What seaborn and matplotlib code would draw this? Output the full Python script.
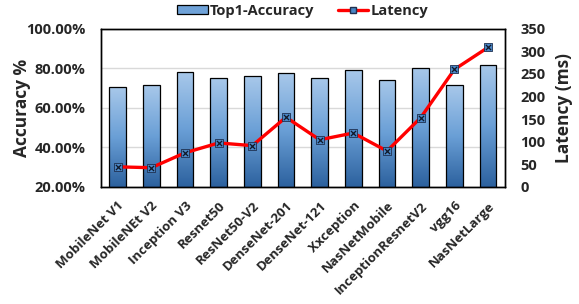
import numpy as np
import pandas as pd
import matplotlib
matplotlib.use('Agg')
import matplotlib.pyplot as plt
import seaborn as sns
from matplotlib.colors import LinearSegmentedColormap
from matplotlib.lines import Line2D
from matplotlib.patches import Patch

models = ['MobileNet V1', 'MobileNEt V2', 'Inception V3', 'Resnet50', 'ResNet50-V2',
          'DenseNet-201', 'DenseNet-121', 'Xxception', 'NasNetMobile',
          'InceptionResnetV2', 'vgg16', 'NasNetLarge']
accuracy = [70.6, 71.5, 78.1, 75.0, 76.0, 77.4, 75.0, 78.9, 74.3, 80.4, 71.3, 81.9]
latency = [44, 42, 75, 97, 91, 154, 104, 119, 79, 153, 260, 309]
acc_ticks = [20, 40, 60, 80, 100]
lat_ticks = [0, 50, 100, 150, 200, 250, 300, 350]

df = pd.DataFrame({'model': models, 'accuracy': accuracy, 'latency': latency})

sns.set_theme(style='white')
plt.rcParams['font.family'] = ['Open Sans', 'DejaVu Sans']
plt.rcParams['font.weight'] = 'bold'

fig, ax = plt.subplots(figsize=(5.79, 3.04), dpi=100)
fig.subplots_adjust(left=0.174, right=0.872, top=0.905, bottom=0.386)

sns.barplot(data=df, x='model', y='accuracy', ax=ax, width=0.5,
            color='#5b9bd5', edgecolor='black', linewidth=0.9, zorder=2)

# vertical gradient fill on each bar (dark bottom -> light top)
cmap = LinearSegmentedColormap.from_list('blu', ['#2c619e', '#6a9fd6', '#a8c8ea'])
grad = np.linspace(0, 1, 256).reshape(-1, 1)
for p in ax.patches:
    x0, y0 = p.get_x(), p.get_y()
    w, h = p.get_width(), p.get_height()
    im = ax.imshow(grad, cmap=cmap, aspect='auto', origin='lower',
                   extent=[x0, x0 + w, 20, y0 + h], zorder=2.5)
    im.set_clip_path(p)
    p.set_facecolor('none')
    p.set_zorder(3)

ax.set_ylim(20, 100)
ax.set_xlim(-0.5, len(models) - 0.5)
ax.set_yticks(acc_ticks)
ax.set_yticklabels([f'{v:.2f}%' for v in acc_ticks], fontsize=10.5, fontweight='bold')
ax.yaxis.grid(True, color='#d9d9d9', linewidth=1.0, zorder=0)
ax.set_axisbelow(True)
ax.set_xlabel('')
ax.set_ylabel('Accuracy %', fontsize=12.5, fontweight='bold')
ax.yaxis.set_label_coords(-0.172, 0.5)
ax.set_xticks(range(len(models)))
ax.set_xticklabels(models, rotation=45, ha='right', rotation_mode='anchor',
                   fontsize=9.5, fontweight='bold')
ax.tick_params(axis='y', length=0, pad=11)
ax.tick_params(axis='x', length=0, pad=9)
for s in ax.spines.values():
    s.set_color('black')
    s.set_linewidth(1.0)

ax2 = ax.twinx()
sns.lineplot(data=df, x='model', y='latency', ax=ax2, color='red', linewidth=2.4,
             sort=False, zorder=4)
ax2.scatter(range(len(models)), latency, marker='s', s=30, color='#4a86c5',
            edgecolor='#1f3050', linewidth=0.6, zorder=5)
ax2.scatter(range(len(models)), latency, marker='x', s=14, color='#101828',
            linewidth=0.9, zorder=6)
ax2.set_ylim(0, 350)
ax2.set_yticks(lat_ticks)
ax2.set_yticklabels([str(v) for v in lat_ticks], fontsize=10.5, fontweight='bold')
ax2.set_ylabel('Latency (ms)', fontsize=12.5, fontweight='bold')
ax2.yaxis.set_label_coords(1.124, 0.5)
ax2.set_xlabel('')
ax2.tick_params(axis='y', length=0, pad=11)
ax2.set_xlim(-0.5, len(models) - 0.5)
for s in ax2.spines.values():
    s.set_color('black')
    s.set_linewidth(1.0)

handles = [Patch(facecolor='#6fa2d8', edgecolor='black', linewidth=0.9),
           Line2D([0], [0], color='red', linewidth=2.4, marker='s', markersize=5,
                  markerfacecolor='#4a86c5', markeredgecolor='#1f3050')]
ax2.legend(handles, ['Top1-Accuracy', 'Latency'], loc='center',
           bbox_to_anchor=(0.5, 1.115), ncol=2, frameon=False,
           prop={'size': 10.5, 'weight': 'bold'}, handlelength=2.1, handleheight=0.55,
           columnspacing=1.6, handletextpad=0.15, borderaxespad=0)

fig.savefig('out.png', dpi=100)
